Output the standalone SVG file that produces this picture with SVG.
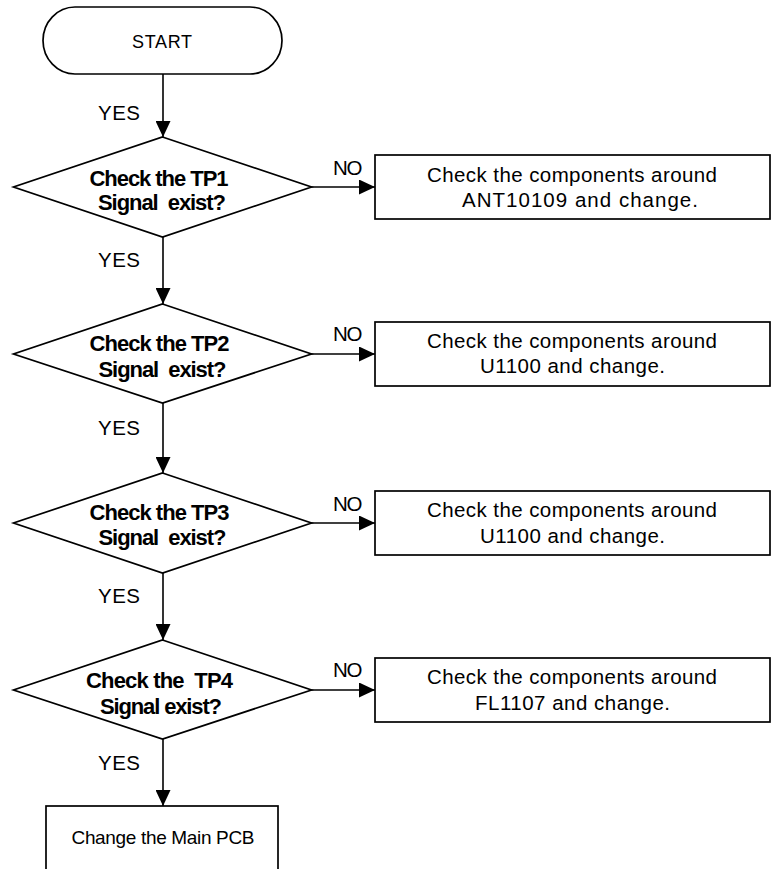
<svg xmlns="http://www.w3.org/2000/svg" width="771" height="869" viewBox="0 0 771 869">
  <style>
    .shape { fill: #ffffff; stroke: #000000; stroke-width: 1.7; }
    .link { fill: none; stroke: #000000; stroke-width: 1.6; }
    .t { font-family: "Liberation Sans", Arial, sans-serif; fill: #000000; }
    .q { font-family: "Liberation Sans", Arial, sans-serif; font-weight: bold; font-size: 22px; fill: #000000; text-anchor: middle; }
    .box { font-size: 20.5px; text-anchor: middle; }
    .lbl { font-size: 20.5px; }
  </style>
  <defs>
    <marker id="arrow" viewBox="0 0 16 15" refX="16" refY="7.5" markerWidth="16" markerHeight="15" markerUnits="userSpaceOnUse" orient="auto">
      <path d="M0,0 L16,7.5 L0,15 Z" fill="#000000"/>
    </marker>
  </defs>

  <rect width="771" height="869" fill="#ffffff"/>

  <!-- connectors -->
  <g id="connectors">
    <line class="link" x1="163" y1="74" x2="163" y2="137" marker-end="url(#arrow)"/>
    <line class="link" x1="163" y1="237" x2="163" y2="304" marker-end="url(#arrow)"/>
    <line class="link" x1="163" y1="403" x2="163" y2="473" marker-end="url(#arrow)"/>
    <line class="link" x1="163" y1="573" x2="163" y2="640" marker-end="url(#arrow)"/>
    <line class="link" x1="163" y1="739" x2="163" y2="806" marker-end="url(#arrow)"/>

    <line class="link" x1="311" y1="187" x2="375" y2="187" marker-end="url(#arrow)"/>
    <line class="link" x1="311" y1="354" x2="375" y2="354" marker-end="url(#arrow)"/>
    <line class="link" x1="311" y1="523" x2="375" y2="523" marker-end="url(#arrow)"/>
    <line class="link" x1="311" y1="690" x2="375" y2="690" marker-end="url(#arrow)"/>

    <text class="t lbl" x="98" y="120" textLength="42">YES</text>
    <text class="t lbl" x="98" y="267" textLength="42">YES</text>
    <text class="t lbl" x="98" y="435" textLength="42">YES</text>
    <text class="t lbl" x="98" y="603" textLength="42">YES</text>
    <text class="t lbl" x="98" y="770" textLength="42">YES</text>

    <text class="t lbl" x="333" y="175" textLength="29.5">NO</text>
    <text class="t lbl" x="333" y="341" textLength="29.5">NO</text>
    <text class="t lbl" x="333" y="511" textLength="29.5">NO</text>
    <text class="t lbl" x="333" y="677" textLength="29.5">NO</text>
  </g>

  <!-- start terminal -->
  <g id="start">
    <rect class="shape" x="43" y="7" width="239" height="67" rx="32" ry="33.5"/>
    <text class="t" x="162" y="47.5" font-size="18" text-anchor="middle" textLength="60">START</text>
  </g>

  <!-- decisions -->
  <g id="tp1">
    <polygon class="shape" points="162.5,137 311.5,187 162.5,237 13.5,187"/>
    <text class="q" x="159" y="186" textLength="139" xml:space="preserve">Check the TP1</text>
    <text class="q" x="162" y="210" textLength="128" xml:space="preserve">Signal  exist?</text>
  </g>
  <g id="tp2">
    <polygon class="shape" points="162.5,304 311.5,354 162.5,403 13.5,354"/>
    <text class="q" x="159.5" y="351" textLength="140" xml:space="preserve">Check the TP2</text>
    <text class="q" x="162.5" y="377" textLength="128" xml:space="preserve">Signal  exist?</text>
  </g>
  <g id="tp3">
    <polygon class="shape" points="162.5,473 311.5,523 162.5,573 13.5,523"/>
    <text class="q" x="159.5" y="520" textLength="140" xml:space="preserve">Check the TP3</text>
    <text class="q" x="162.5" y="545" textLength="128" xml:space="preserve">Signal  exist?</text>
  </g>
  <g id="tp4">
    <polygon class="shape" points="162.5,640 311.5,690 162.5,739 13.5,690"/>
    <text class="q" x="159.5" y="688" textLength="147" xml:space="preserve">Check the  TP4</text>
    <text class="q" x="161" y="714" textLength="122" xml:space="preserve">Signal exist?</text>
  </g>

  <!-- repair actions -->
  <g id="fix-ant">
    <rect class="shape" x="375" y="155" width="395" height="64"/>
    <text class="t box" x="572" y="182" textLength="290">Check the components around</text>
    <text class="t box" x="580" y="207" textLength="236">ANT10109 and change.</text>
  </g>
  <g id="fix-u1100-a">
    <rect class="shape" x="375" y="322" width="395" height="64"/>
    <text class="t box" x="572" y="348" textLength="290">Check the components around</text>
    <text class="t box" x="572.5" y="373" textLength="185">U1100 and change.</text>
  </g>
  <g id="fix-u1100-b">
    <rect class="shape" x="375" y="491" width="395" height="64"/>
    <text class="t box" x="572" y="517" textLength="290">Check the components around</text>
    <text class="t box" x="572.5" y="543" textLength="185">U1100 and change.</text>
  </g>
  <g id="fix-fl1107">
    <rect class="shape" x="375" y="658" width="395" height="64"/>
    <text class="t box" x="572" y="684" textLength="290">Check the components around</text>
    <text class="t box" x="572.5" y="710" textLength="195">FL1107 and change.</text>
  </g>

  <!-- final step -->
  <g id="main-pcb">
    <rect class="shape" x="46" y="806" width="232" height="80"/>
    <text class="t" x="163" y="844" font-size="19" text-anchor="middle" textLength="183">Change the Main PCB</text>
  </g>
</svg>
